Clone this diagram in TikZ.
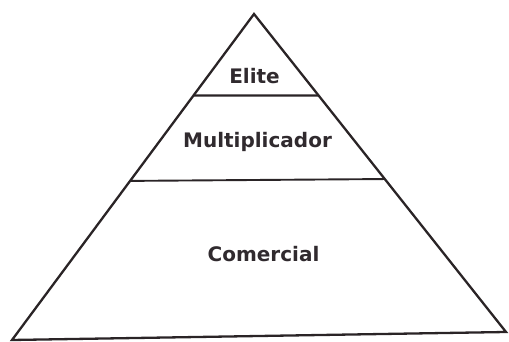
\documentclass[tikz,border=0pt]{standalone}
\usepackage{fontspec}
\setsansfont{DejaVu Sans}
\usepackage{tikz}
\usetikzlibrary{calc}
\usepackage{xcolor}
\definecolor{inkline}{HTML}{2A2426}
\definecolor{inktext}{HTML}{302A2E}

\begin{document}
\begin{tikzpicture}[
  x=1pt,y=1pt,
  layer/.style={
    font=\sffamily\bfseries\fontsize{20}{24}\selectfont,
    text=inktext,
    inner sep=0pt,
    },
  edge/.style={draw=inkline,line width=2.3pt,line join=miter},
  ]
  \useasboundingbox (0,0) rectangle (509,342);
  \coordinate (apex) at (254,328);
  \coordinate (baseL) at (12,2);
  \coordinate (baseR) at (506,10);

  % dividing lines between the layers
  \coordinate (eliteL) at ($(apex)!0.25!(baseL)$);
  \coordinate (eliteR) at ($(apex)!0.256!(baseR)$);
  \coordinate (multL) at ($(apex)!0.512!(baseL)$);
  \coordinate (multR) at ($(apex)!0.519!(baseR)$);

  \draw[edge]
    (apex) -- (baseR) -- (baseL) -- cycle;
  \draw[edge]
    (eliteL) -- (eliteR);
  \draw[edge,line width=1.9pt]
    (multL) -- (multR);

  \node[layer] (elite)
    at (254.5,266) {Elite};
  \node[layer] (mult)
    at (257.5,200) {Multiplicador};
  \node[layer] (comercial)
    at (263.5,87.5) {Comercial};
\end{tikzpicture}
\end{document}
